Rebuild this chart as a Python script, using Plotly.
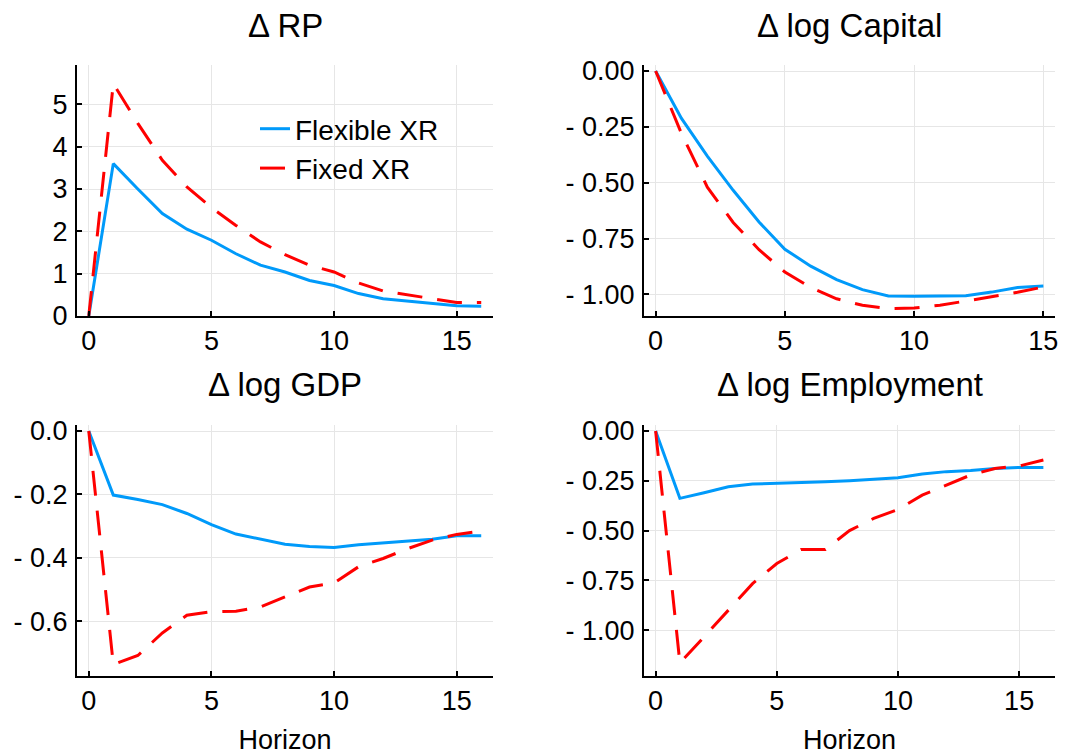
import plotly.graph_objects as go

horizon = list(range(17))
horizon_cap = list(range(16))

rp_flex = [0, 3.6, 3.0, 2.42, 2.05, 1.79, 1.47, 1.2, 1.04, 0.84, 0.72, 0.53, 0.41, 0.35, 0.29, 0.24, 0.23]
rp_fixed = [0, 5.49, 4.55, 3.68, 3.05, 2.56, 2.14, 1.75, 1.45, 1.2, 1.04, 0.78, 0.59, 0.5, 0.41, 0.32, 0.32]

cap_flex = [0, -0.212, -0.381, -0.534, -0.676, -0.798, -0.874, -0.934, -0.979, -1.007, -1.009, -1.006, -1.006, -0.99, -0.969, -0.963]
cap_fixed = [0, -0.28, -0.52, -0.678, -0.80, -0.90, -0.97, -1.02, -1.049, -1.064, -1.061, -1.049, -1.03, -1.012, -0.991, -0.967]

gdp_flex = [0, -0.202, -0.216, -0.232, -0.26, -0.295, -0.325, -0.341, -0.357, -0.364, -0.367, -0.359, -0.353, -0.349, -0.341, -0.33, -0.33]
gdp_fixed = [0, -0.736, -0.708, -0.637, -0.581, -0.57, -0.568, -0.555, -0.523, -0.492, -0.479, -0.428, -0.402, -0.371, -0.344, -0.326, -0.315]

emp_flex = [0, -0.338, -0.31, -0.28, -0.266, -0.263, -0.261, -0.255, -0.25, -0.241, -0.235, -0.216, -0.204, -0.198, -0.188, -0.183, -0.183]
emp_fixed = [0, -1.164, -1.033, -0.9, -0.766, -0.665, -0.595, -0.595, -0.50, -0.439, -0.394, -0.322, -0.271, -0.221, -0.188, -0.176, -0.146]

titles = ["Δ RP", "Δ log Capital", "Δ log GDP", "Δ log Employment"]
series_names = ["Flexible XR", "Fixed XR"]

x_ticks = [0, 5, 10, 15]
rp_ticks = [0, 1, 2, 3, 4, 5]
rp_ticktext = ["0", "1", "2", "3", "4", "5"]
cap_ticks = [0, -0.25, -0.5, -0.75, -1.0]
cap_ticktext = ["0.00", "- 0.25", "- 0.50", "- 0.75", "- 1.00"]
gdp_ticks = [0, -0.2, -0.4, -0.6]
gdp_ticktext = ["0.0", "- 0.2", "- 0.4", "- 0.6"]
emp_ticks = [0, -0.25, -0.5, -0.75, -1.0]
emp_ticktext = ["0.00", "- 0.25", "- 0.50", "- 0.75", "- 1.00"]

W, H = 1071, 755
FONT = "Liberation Sans, Arial, sans-serif"
BLUE = "#009AFA"
RED = "#FF0000"

# panel geometry (pixels)
xl = [(77, 493), (644, 1055)]
yt = [(65, 316), (425, 676)]

def xdom(i):
    a, b = xl[i]
    return [a / W, b / W]

def ydom(j):
    a, b = yt[j]
    return [1 - b / H, 1 - a / H]

fig = go.Figure()

panels = [
    dict(ax="", x=horizon, f=rp_flex, d=rp_fixed, col=0, row=0, xr=[-0.48, 16.48], yr=[0, 5.93],
         tv=rp_ticks, tt=rp_ticktext),
    dict(ax="2", x=horizon_cap, f=cap_flex, d=cap_fixed, col=1, row=0, xr=[-0.45, 15.45], yr=[-1.097, 0.027],
         tv=cap_ticks, tt=cap_ticktext),
    dict(ax="3", x=horizon, f=gdp_flex, d=gdp_fixed, col=0, row=1, xr=[-0.48, 16.48], yr=[-0.7726, 0.019],
         tv=gdp_ticks, tt=gdp_ticktext),
    dict(ax="4", x=horizon, f=emp_flex, d=emp_fixed, col=1, row=1, xr=[-0.48, 16.48], yr=[-1.2295, 0.030],
         tv=emp_ticks, tt=emp_ticktext),
]

axis_common = dict(
    showline=True, linecolor="black", linewidth=2, mirror=False,
    showgrid=True, gridcolor="#e6e6e6", gridwidth=1,
    zeroline=False, automargin=False,
    ticks="inside", ticklen=5, tickwidth=1.5, tickcolor="black",
    tickfont=dict(family=FONT, size=27, color="black"),
)

for k, p in enumerate(panels):
    ax = p["ax"]
    fig.add_trace(go.Scatter(x=p["x"], y=p["f"], mode="lines", name=series_names[0],
                             line=dict(color=BLUE, width=3), showlegend=(k == 0), legendgroup="a",
                             xaxis="x" + ax, yaxis="y" + ax))
    fig.add_trace(go.Scatter(x=p["x"], y=p["d"], mode="lines", name=series_names[1],
                             line=dict(color=RED, width=3, dash="25px,15px"), showlegend=(k == 0), legendgroup="b",
                             xaxis="x" + ax, yaxis="y" + ax))
    xa = dict(axis_common, domain=xdom(p["col"]), range=p["xr"], tickvals=x_ticks,
              anchor="y" + ax, ticklabelstandoff=0)
    ya = dict(axis_common, domain=ydom(p["row"]), range=p["yr"], tickvals=p["tv"], ticktext=p["tt"],
              anchor="x" + ax, ticklabelstandoff=2)
    if p["row"] == 1:
        xa["title"] = dict(text="Horizon", font=dict(family=FONT, size=27, color="black"), standoff=24)
    fig.update_layout(**{"xaxis" + ax: xa, "yaxis" + ax: ya})

    # panel title
    a, b = xl[p["col"]]
    cy = 25.5 if p["row"] == 0 else 384
    fig.add_annotation(text=titles[k], xref="paper", yref="paper", x=(a + b) / 2 / W, y=1 - cy / H,
                       xanchor="center", yanchor="middle", showarrow=False,
                       font=dict(family=FONT, size=33, color="black"))

fig.update_layout(
    width=W, height=H,
    margin=dict(l=0, r=0, t=0, b=0, autoexpand=False),
    paper_bgcolor="white", plot_bgcolor="white",
    font=dict(family=FONT, color="black"),
    legend=dict(x=255 / W, y=1 - 104 / H, xanchor="left", yanchor="top",
                bgcolor="rgba(0,0,0,0)", borderwidth=0,
                font=dict(family=FONT, size=28, color="black"), tracegroupgap=0),
    showlegend=True,
)

fig.write_html("out.html")
